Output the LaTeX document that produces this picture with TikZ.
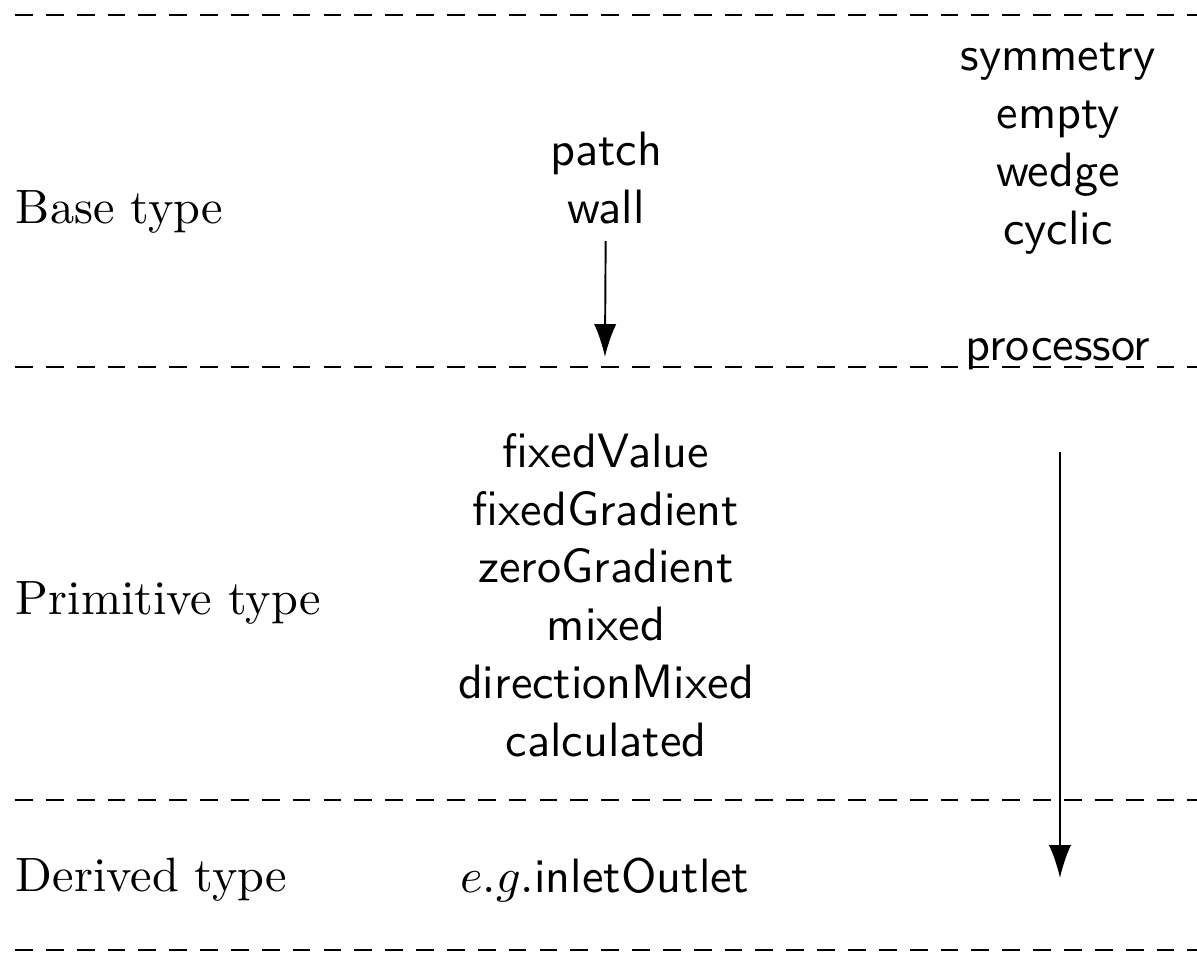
\documentclass[tikz,border=0pt]{standalone}
\usetikzlibrary{arrows.meta}

\tikzset{
    layer/.style={draw, thin, dash pattern=on 3.7pt off 2.7pt},
    typelabel/.style={anchor=west, inner sep=0pt},
    bclist/.style={align=center, font=\sffamily},
    flow/.style={-{Latex[length=6.8pt,width=4.6pt]}, thin}
}

\begin{document}
\begin{tikzpicture}
    \useasboundingbox (0,0) rectangle (8.726,-7.035);

    % layer boundaries
    \draw [layer] (0.109,-0.109) -- (8.726,-0.109);
    \draw [layer] (0.109,-2.675) -- (8.726,-2.675);
    \draw [layer] (0.109,-5.832) -- (8.726,-5.832);
    \draw [layer] (0.109,-6.926) -- (8.726,-6.926);

    % type names
    \node [typelabel] (base) at (0.109,-1.545) {Base type};
    \node [typelabel] (prim) at (0.109,-4.396) {Primitive type};
    \node [typelabel] (deriv) at (0.109,-6.415) {Derived type};

    % boundary condition lists
    \node [bclist] (basegen) at (4.418,-1.298) {patch\\wall};
    \node [bclist] (basecon) at (7.713,-1.505) {symmetry\\empty\\wedge\\cyclic\\[12pt]processor};
    \node [bclist] (primlist) at (4.418,-4.338) {fixedValue\\fixedGradient\\zeroGradient\\mixed\\directionMixed\\calculated};
    \node [bclist] (derivlist) at (4.410,-6.415) {$e.g.$inletOutlet};

    % inheritance
    \coordinate (baseend) at (4.410,-2.602);
    \coordinate (primstart) at (7.727,-3.295);
    \coordinate (primend) at (7.727,-6.400);
    \draw [flow] (basegen) -- (baseend);
    \draw [flow] (primstart) -- (primend);
\end{tikzpicture}
\end{document}
